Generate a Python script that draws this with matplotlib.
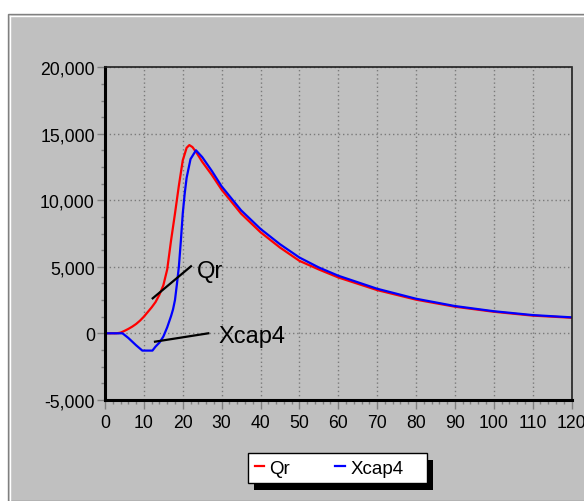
import matplotlib
matplotlib.use("Agg")
import matplotlib.pyplot as plt
from matplotlib.patches import Rectangle
from matplotlib.ticker import MultipleLocator, FuncFormatter

plt.rcParams['font.family'] = ['Liberation Sans', 'DejaVu Sans']
plt.rcParams['axes.unicode_minus'] = False

# Qr curve (red)
qr_x = [0, 3, 4, 5, 6, 7, 8, 9, 10, 11, 12, 13, 14, 15, 16, 17, 18, 19, 20, 21,
        21.7, 22.5, 23.5, 25, 27.5, 30, 35, 40, 45, 50, 55, 60, 70, 80, 90, 100, 110, 120]
qr_y = [0, 0, 50, 180, 330, 500, 700, 950, 1250, 1600, 1950, 2350, 2900, 3600, 4800, 7000,
        9000, 11100, 13000, 13950, 14150, 14000, 13600, 12900, 11900, 10800, 9000, 7600,
        6450, 5450, 4800, 4200, 3250, 2530, 2000, 1620, 1330, 1170]

# Xcap4 curve (blue)
xcap_x = [0, 4.5, 6, 8, 9.6, 12.2, 13, 14, 15, 16, 17, 17.5, 18, 18.5, 19, 19.5, 20, 20.5,
          21, 22, 23.4, 25, 27.5, 30, 35, 40, 45, 50, 55, 60, 70, 80, 90, 100, 110, 120]
xcap_y = [0, 0, -350, -900, -1300, -1300, -1000, -700, -250, 450, 1300, 1800, 2500, 3700,
          5000, 6900, 9000, 10500, 11700, 13100, 13760, 13250, 12200, 11050, 9250, 7850,
          6700, 5700, 4950, 4330, 3350, 2600, 2050, 1660, 1370, 1200]

W, H = 584, 502
fig = plt.figure(figsize=(W / 100, H / 100), dpi=100, facecolor="white")

# grey panel with bevel border
fig.patches.append(Rectangle((8 / W, 0), 1, 1 - 15 / H, transform=fig.transFigure,
                             facecolor="#c0c0c0", edgecolor="#808080", lw=1, zorder=-3))
fig.lines.append(plt.Line2D([10 / W, 10 / W], [0, 1 - 17 / H], transform=fig.transFigure,
                            color="white", lw=1, zorder=-2))
fig.lines.append(plt.Line2D([10 / W, 1], [1 - 17 / H, 1 - 17 / H], transform=fig.transFigure,
                            color="white", lw=1, zorder=-2))

ax = fig.add_axes([105 / W, 1 - 400.8 / H, 466.5 / W, 332.5 / H])
ax.set_facecolor("#c0c0c0")

ax.plot(qr_x, qr_y, color="#ff0000", lw=1.6, label="Qr")
ax.plot(xcap_x, xcap_y, color="#0000ff", lw=1.6, label="Xcap4")

ax.set_xlim(0, 120)
ax.set_ylim(-5000, 20000)
ax.xaxis.set_major_locator(MultipleLocator(10))
ax.xaxis.set_minor_locator(MultipleLocator(2))
ax.yaxis.set_major_locator(MultipleLocator(5000))
ax.yaxis.set_minor_locator(MultipleLocator(1250))
ax.yaxis.set_major_formatter(FuncFormatter(lambda v, p: f"{v:,.0f}"))

ax.grid(True, which="major", color="#7a7a7a", linestyle=(0, (1, 2)), lw=1)
ax.tick_params(axis="both", which="both", direction="out", color="#808080", width=1,
               labelsize=12.7, labelcolor="black")
ax.tick_params(axis="x", which="major", length=6.5, pad=4)
ax.tick_params(axis="y", which="major", length=5.8, pad=1.5)
ax.tick_params(axis="both", which="minor", length=3)

for s in ["left", "bottom"]:
    ax.spines[s].set_linewidth(2.2)
    ax.spines[s].set_color("black")
for s in ["top", "right"]:
    ax.spines[s].set_linewidth(1.2)
    ax.spines[s].set_linestyle((0, (1, 1)))
    ax.spines[s].set_color("#202020")

# callouts
ax.plot([12.27, 22.12], [2630, 5040], color="black", lw=1.6)
ax.text(23.7, 4700, "Qr", fontsize=17, va="center", ha="left")
ax.plot([12.86, 26.57], [-630, 0], color="black", lw=1.6)
ax.text(29.1, -220, "Xcap4", fontsize=17, va="center", ha="left")

handles, labels = ax.get_legend_handles_labels()
leg = fig.legend(handles, labels, loc="upper left", bbox_to_anchor=(248 / W, 1 - 454 / H),
                 ncol=2, fontsize=13.5, handlelength=0.5, handletextpad=0.3,
                 columnspacing=2.4, borderpad=0.35, borderaxespad=0, frameon=False)

# legend box drawn by hand: wider on the right, solid black drop shadow
fig.canvas.draw()
bb = leg.get_window_extent()
box_w = bb.width + 17
fig.patches.append(Rectangle((bb.x0 + 6, bb.y0 - 7), box_w, bb.height, transform=None,
                             facecolor="black", edgecolor="none", zorder=3))
fig.patches.append(Rectangle((bb.x0, bb.y0), box_w, bb.height, transform=None,
                             facecolor="white", edgecolor="black", lw=1, zorder=4))

fig.savefig("out.png", dpi=100, facecolor=fig.get_facecolor())
